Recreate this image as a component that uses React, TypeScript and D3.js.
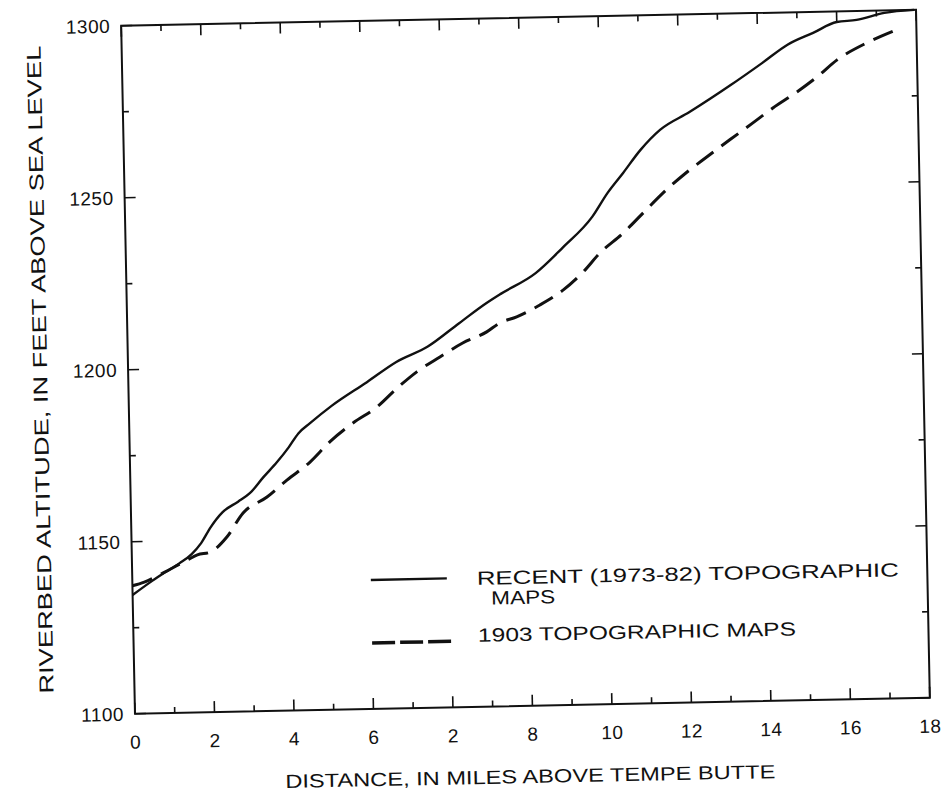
import React from "react";
import * as d3 from "d3";

// Distance positions run 0..20 along the axis; the printed tick labels follow below.
const xTickLabels = ["0", "2", "4", "6", "2", "8", "10", "12", "14", "16", "18"];
const yTickValues = [1100, 1150, 1200, 1250, 1300];

// Recent (1973-82) topographic maps profile
const recentMiles = [0, 0.5, 0.8, 1.2, 1.5, 1.75, 2.0, 2.3, 2.7, 3.0, 3.35, 3.7, 4.0, 4.25, 4.55, 5.1, 6.0, 6.75, 7.55, 8.35, 9.05, 9.4, 10.3, 11.0, 11.75, 12.15, 12.55, 13.0, 13.5, 14.25, 15.3, 16.1, 16.75, 17.4, 18.0, 18.5, 19.2, 19.95];
const recentAltitude = [1134.5, 1138.5, 1140.7, 1143.5, 1146, 1149.2, 1153.8, 1158, 1161, 1163.4, 1168, 1172.3, 1176.5, 1180.5, 1183.4, 1188.3, 1195, 1200.7, 1205, 1211.6, 1217.3, 1219.8, 1225.7, 1233, 1241.7, 1248.6, 1254.3, 1260.9, 1266.6, 1271.6, 1279.2, 1285.4, 1290.6, 1293.9, 1296.9, 1297.4, 1299.3, 1300];

// 1903 topographic maps profile
const oldMiles = [0, 0.3, 0.77, 1.4, 1.65, 1.97, 2.4, 2.82, 3.43, 3.94, 4.53, 5.05, 5.63, 6.24, 6.76, 7.26, 7.85, 8.43, 9.04, 9.37, 9.8, 10.39, 10.98, 11.49, 11.93, 12.52, 13.03, 13.54, 14.16, 14.67, 15.25, 15.84, 16.35, 16.96, 17.48, 17.99, 18.75, 19.5];
const oldAltitude = [1137.2, 1138.2, 1140.7, 1144.4, 1145.8, 1146.5, 1150.8, 1157.7, 1162.2, 1167, 1172.1, 1178, 1183.2, 1187.7, 1193.1, 1197.7, 1201.9, 1205.8, 1208.9, 1211.4, 1213.1, 1216.4, 1220.6, 1225.7, 1231.2, 1236.8, 1242.5, 1248.2, 1254.2, 1258.5, 1263.3, 1268.1, 1272.3, 1276.8, 1281.1, 1285.9, 1290.7, 1294.3];

const legendLabels = ["RECENT (1973-82) TOPOGRAPHIC", "MAPS", "1903 TOPOGRAPHIC MAPS"];
const xTitle = "DISTANCE, IN MILES ABOVE TEMPE BUTTE";
const yTitle = "RIVERBED ALTITUDE, IN FEET ABOVE SEA LEVEL";

const W = 945;
const H = 791;
const M = { left: 128, top: 17.7, right: 22, bottom: 85.2 };
const FONT = "'Liberation Sans', Arial, Helvetica, sans-serif";
const INK = "#111";

export default function App() {
  const iw = W - M.left - M.right;
  const ih = H - M.top - M.bottom;
  const x = d3.scaleLinear().domain([0, 20]).range([0, iw]);
  const y = d3.scaleLinear().domain([1100, 1300]).range([ih, 0]);

  const line = d3
    .line<[number, number]>()
    .x((d) => x(d[0]))
    .y((d) => y(d[1]))
    .curve(d3.curveMonotoneX);

  const recent = recentMiles.map((m, i) => [m, recentAltitude[i]] as [number, number]);
  const old = oldMiles.map((m, i) => [m, oldAltitude[i]] as [number, number]);

  const xMinor = d3.range(0, 21, 1);
  const yMinor = d3.range(1100, 1301, 25);
  const majLen = 11;
  const minLen = 6;

  const cx = M.left + iw / 2;
  const cy = M.top + ih / 2;

  return (
    <svg
      width={W}
      height={H}
      viewBox={`0 0 ${W} ${H}`}
      style={{ position: "absolute", left: 0, top: 0, background: "#fff" }}
    >
      <rect width={W} height={H} fill="#fff" />
      <g transform={`rotate(-1.15, ${cx}, ${cy})`} fontFamily={FONT} fill={INK}>
        <g transform={`translate(${M.left},${M.top})`}>
          {/* ticks on all four sides, pointing inward */}
          {xMinor.map((v) => {
            const len = v % 2 === 0 ? majLen : minLen;
            return (
              <g key={"xt" + v}>
                <line x1={x(v)} x2={x(v)} y1={ih} y2={ih - len} stroke={INK} strokeWidth={1.6} />
                <line x1={x(v)} x2={x(v)} y1={0} y2={len} stroke={INK} strokeWidth={1.6} />
              </g>
            );
          })}
          {yMinor.map((v) => {
            const len = v % 50 === 0 ? majLen : minLen;
            return (
              <g key={"yt" + v}>
                <line x1={0} x2={len} y1={y(v)} y2={y(v)} stroke={INK} strokeWidth={1.6} />
                <line x1={iw} x2={iw - len} y1={y(v)} y2={y(v)} stroke={INK} strokeWidth={1.6} />
              </g>
            );
          })}
          <rect x={0} y={0} width={iw} height={ih} fill="none" stroke={INK} strokeWidth={2} />

          {/* tick labels */}
          {xTickLabels.map((t, i) => (
            <text key={"xl" + i} x={x(i * 2)} y={ih + 35} textAnchor="middle" fontSize={19} letterSpacing={0.5}>
              {t}
            </text>
          ))}
          {yTickValues.map((v) => (
            <text key={"yl" + v} x={-11} y={y(v)} dy="0.36em" textAnchor="end" fontSize={19} letterSpacing={0.5}>
              {v}
            </text>
          ))}

          {/* profiles */}
          <path d={line(recent) || ""} fill="none" stroke={INK} strokeWidth={2.4} />
          <path
            d={line(old) || ""}
            fill="none"
            stroke={INK}
            strokeWidth={3}
            strokeDasharray="21 10"
          />

          {/* legend */}
          <g transform={`translate(${x(6)},${y(1137.5)})`}>
            <line x1={0} x2={76} y1={0} y2={0} stroke={INK} strokeWidth={2.4} />
            <text x={106} y={7} fontSize={19} textLength={422} lengthAdjust="spacingAndGlyphs">
              {legendLabels[0]}
            </text>
            <text x={120} y={27} fontSize={19} textLength={64} lengthAdjust="spacingAndGlyphs">
              {legendLabels[1]}
            </text>
            <line x1={0} x2={80} y1={63} y2={63} stroke={INK} strokeWidth={3.5} strokeDasharray="23 5" />
            <text x={106} y={64} fontSize={19} textLength={318} lengthAdjust="spacingAndGlyphs">
              {legendLabels[2]}
            </text>
          </g>
        </g>

        {/* axis titles */}
        <text x={522} y={783} textAnchor="middle" fontSize={19} textLength={490} lengthAdjust="spacingAndGlyphs">
          {xTitle}
        </text>
        <text
          transform={`translate(47, 360) rotate(-90)`}
          textAnchor="middle"
          fontSize={20}
          textLength={648}
          lengthAdjust="spacingAndGlyphs"
        >
          {yTitle}
        </text>
      </g>
    </svg>
  );
}
